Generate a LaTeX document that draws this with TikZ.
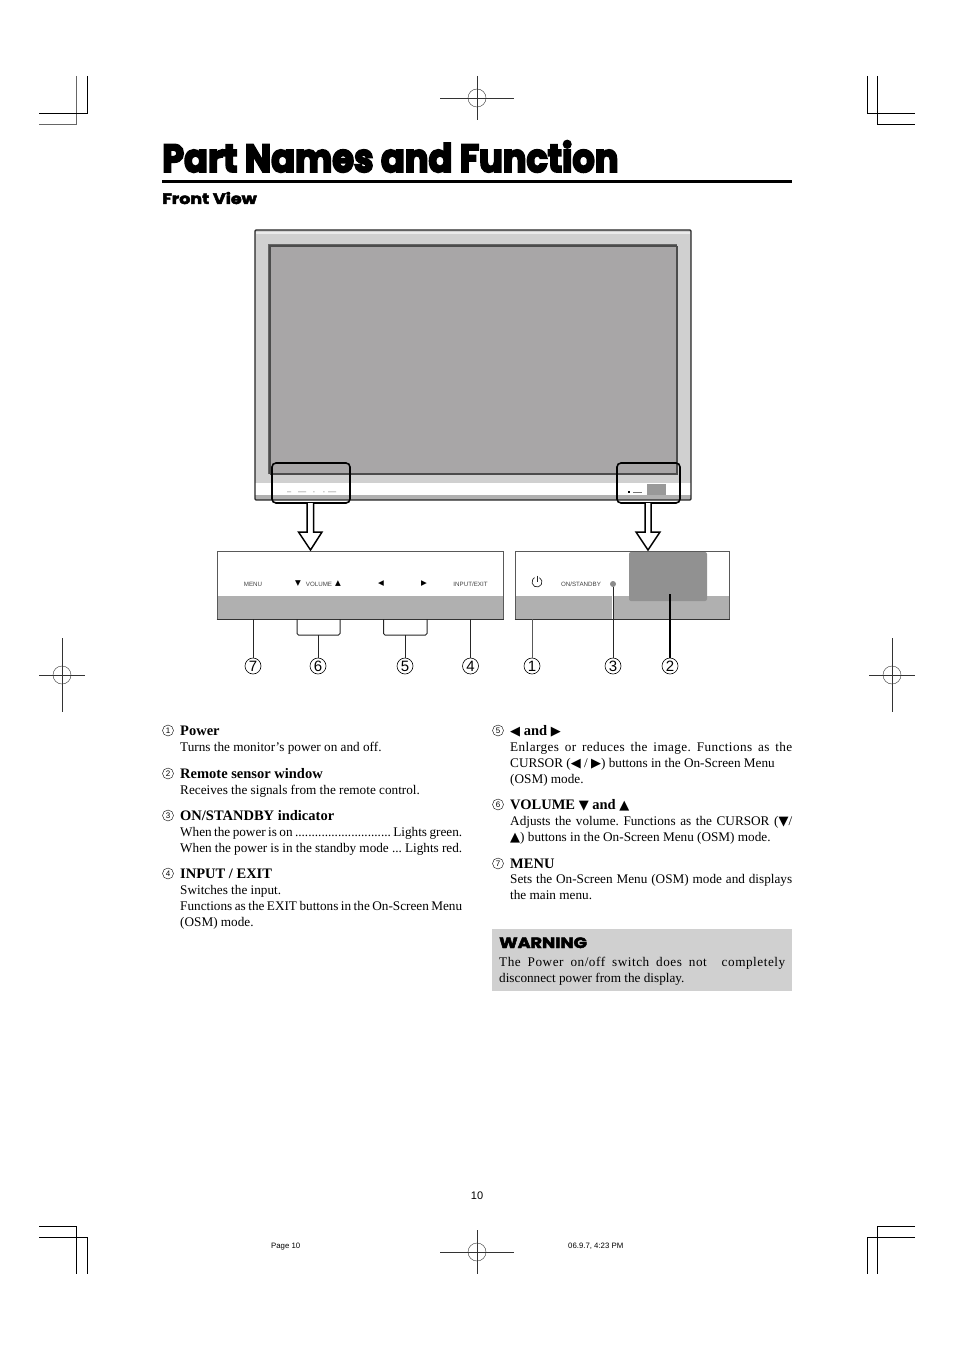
\documentclass[tikz,border=0pt]{standalone}
\usepackage{fontspec}
\setmainfont{Liberation Serif}
\newfontfamily\helv{Liberation Sans}
\newfontfamily\djv{DejaVu Sans}
\newfontfamily\heavy[FakeBold=3]{Poppins Bold}
\newfontfamily\heavier[FakeBold=5]{Poppins Bold}
\newcommand{\fsz}[1]{\fontsize{#1}{#1}\selectfont}
\newcommand{\tri}[1]{{\djv\fsz{13}#1}}
\newcommand{\stretchline}[2]{\makebox[#1][s]{#2}}
\newcommand{\spaced}[1]{{\addfontfeatures{LetterSpace=#1}}}
\frenchspacing
\tikzset{
  x=1pt,y=-1pt,
  body/.style={anchor=base west,inner sep=0pt,font=\fsz{13.22}},
  head/.style={anchor=base west,inner sep=0pt,font=\fsz{14.5}\bfseries},
  lnum/.style={circle,draw,line width=.4pt,inner sep=0pt,minimum size=11pt,font=\helv\fsz{8}},
  dnum/.style={circle,draw,line width=.6pt,inner sep=0pt,minimum size=16pt,font=\helv\fsz{15}},
  plabel/.style={inner sep=0pt,font=\helv\fsz{6.2},text=black!75},
  ptri/.style={inner sep=0pt,font=\djv\fsz{7.5}},
  crop/.style={line width=.9pt,black},
  cropg/.style={line width=.9pt,black!60},
  reg/.style={line width=.4pt,black!80},
  lead/.style={line width=1pt,black!85},
  callout/.style={line width=1.6pt,rounded corners=4pt},
  hollow/.style={draw=black,line width=1.5pt,fill=white,line join=miter},
  small/.style={inner sep=0pt,anchor=base west,font=\helv\fsz{7.8}}
}
\definecolor{screen}{HTML}{A8A6A7}
\definecolor{bezel}{HTML}{D0D0D0}
\definecolor{band}{HTML}{B0B0B0}
\begin{document}
\begin{tikzpicture}
\useasboundingbox[fill=white] (0,0) rectangle (954,1351);
% crop marks
\draw[cropg] (76.5,76) -- (76.5,124) -- (39,124);
\draw[crop] (87.5,76) -- (87.5,113) -- (39,113);
\draw[crop] (867,76) -- (867,113) -- (915,113);
\draw[crop] (877.5,76) -- (877.5,124) -- (915,124);
\draw[crop] (39,1226.5) -- (76.5,1226.5) -- (76.5,1274);
\draw[crop] (39,1237.5) -- (87.5,1237.5) -- (87.5,1274);
\draw[crop] (915,1226.5) -- (877.5,1226.5) -- (877.5,1274);
\draw[crop] (915,1237.5) -- (867,1237.5) -- (867,1274);
% registration marks
\foreach \cx/\cy/\hw/\vw in {477/98/37/22,477/1252/37/22,62/675/23/37,892/675/23/37}{
  \draw[reg] (\cx-\hw,\cy) -- (\cx+\hw,\cy) (\cx,\cy-\vw) -- (\cx,\cy+\vw);
  \draw[reg] (\cx,\cy) circle (9);
}
% title
\node[anchor=base west,inner sep=0pt,font=\heavier\fsz{38}] (title) at (162,172) {\scalebox{.925}[1.03]{Part Names and Function}};
\fill (162,180.3) rectangle (792,183.2);
\node[anchor=base west,inner sep=0pt,font=\heavy\fsz{15}] (front) at (162,204) {\scalebox{1.165}[1]{Front View}};
% monitor
\fill[bezel] (255,230) rectangle (691,483);
\fill[black!8] (256,232) rectangle (690,234);
\fill[white] (255,483) rectangle (691,495);
\fill[band] (255,495) rectangle (691,500);
\draw[line width=1.2pt,black!85,rounded corners=1pt] (255,230) rectangle (691,500);
\fill[screen] (268,244) rectangle (677,474);
\draw[line width=.8pt,black!60] (268,474) -- (268,244) -- (677,244);
\draw[line width=1.6pt,black!70] (270,474) -- (270,246) -- (677,246);
\draw[line width=1.2pt,black!70] (270,474) -- (677,474) -- (677,246);
\fill[black!40] (647,484) rectangle (666,495);
\fill[black!55] (287,491.5) rectangle (291,492)
  (298,491.5) rectangle (306,492) (313,491.5) rectangle (314.5,492)
  (323,491.5) rectangle (324.5,492) (328,491.5) rectangle (336,492);
\fill[black] (628,491) rectangle (630,492.5);
\fill[black!55] (633,491.5) rectangle (642,492);
\draw[callout] (272,463) rectangle (350,503);
\draw[callout] (617,463) rectangle (680,503);
% hollow arrows
\draw[hollow] (307,503) -- (307,532) -- (298.5,532) -- (310.5,550) -- (322,532) -- (313.5,532) -- (313.5,503);
\draw[hollow] (645,503) -- (645,532) -- (636,532) -- (648,550) -- (660,532) -- (651,532) -- (651,503);
% left panel
\fill[band] (217,596) rectangle (503,619);
\draw[line width=.8pt,black!65] (217,619) -- (217,551.5) -- (503,551.5) -- (503,619);
\draw[line width=1.6pt,black!80] (216.5,619.5) -- (503.5,619.5);
\node[plabel] (menu) at (253,584) {MENU};
\node[ptri] (voldn) at (298,584) {▼};
\node[plabel] (vol) at (319,584) {VOLUME};
\node[ptri] (volup) at (338,584) {▲};
\node[ptri] (left) at (381,584) {◀};
\node[ptri] (right) at (424,584) {▶};
\node[plabel] (input) at (470.5,584) {INPUT/EXIT};
% right panel
\fill[band] (515,596) rectangle (729,619);
\draw[line width=.8pt,black!65] (515,619) -- (515,551.5) -- (729,551.5) -- (729,619);
\draw[line width=1.6pt,black!80] (514.5,619.5) -- (729.5,619.5);
\fill[black!43,rounded corners=2pt] (629,552) rectangle (707,601);
\draw[line width=.7pt,black!85] (539.5,577.7) arc[start angle=-60,end angle=240,radius=5];
\draw[line width=.7pt,black!85] (537,575.5) -- (537,582);
\node[plabel] (standby) at (581,584) {ON/STANDBY};
\node[circle,fill=black!45,inner sep=0pt,minimum size=6pt] (led) at (613,584) {};
% callout numbers
\node[dnum] (n7) at (253,666) {7};
\node[dnum] (n6) at (318,666) {6};
\node[dnum] (n5) at (405,666) {5};
\node[dnum] (n4) at (470.5,666) {4};
\node[dnum] (n1) at (532,666) {1};
\node[dnum] (n3) at (613,666) {3};
\node[dnum] (n2) at (670,666) {2};
\coordinate (c7) at (253,619);
\coordinate (c4) at (470.5,619);
\coordinate (c1) at (532,619);
\coordinate (c2) at (670,594);
\coordinate (b6) at (318,635);
\coordinate (b5) at (405,635);
\draw[lead] (c7) -- (n7);
\draw[lead] (c4) -- (n4);
\draw[lead,black!65] (c1) -- (n1);
\draw[line width=2.2pt,white] (led) -- (613,619);
\draw[lead] (led) -- (n3);
\draw[lead,line width=1.1pt,black] (c2) -- (n2);
\draw[lead,rounded corners=1.5pt] (297,619) -- (297,635) -- (340,635) -- (340,619);
\draw[lead,rounded corners=1.5pt] (383.5,619) -- (383.5,635) -- (427,635) -- (427,619);
\draw[lead] (b6) -- (n6);
\draw[lead] (b5) -- (n5);
% left column
\node[lnum] (l1) at (168,730.5) {1};
\node[head] (h1) at (180,735) {Power};
\node[body] at (180,751) {Turns the monitor’s power on and off.};
\node[lnum] (l2) at (168,773.5) {2};
\node[head] (h2) at (180,778) {Remote sensor window};
\node[body] at (180,794) {Receives the signals from the remote control.};
\node[lnum] (l3) at (168,815.5) {3};
\node[head] (h3) at (180,820) {ON/STANDBY indicator};
\node[body] at (180,836) {\stretchline{282pt}{When the power is on ............................. \hfill Lights green.}};
\node[body] at (180,852) {\stretchline{282pt}{When the power is in the standby mode ... \hfill Lights red.}};
\node[lnum] (l4) at (168,873.5) {4};
\node[head] (h4) at (180,878) {INPUT / EXIT};
\node[body] at (180,894) {Switches the input.};
\node[body] at (180,910) {\stretchline{282pt}{Functions as the EXIT buttons in the On-Screen Menu}};
\node[body] at (180,926) {(OSM) mode.};
% right column
\node[lnum] (l5) at (498,730.5) {5};
\node[head] (h5) at (510,735) {\tri{◀} and \tri{▶}};
\node[body] at (510,751) {\stretchline{282pt}{\addfontfeatures{LetterSpace=3}Enlarges or reduces the image. Functions as the}};
\node[body] at (510,767) {CURSOR (\tri{◀} / \tri{▶}) buttons in the On-Screen Menu};
\node[body] at (510,783) {(OSM) mode.};
\node[lnum] (l6) at (498,804.5) {6};
\node[head] (h6) at (510,809) {VOLUME \tri{▼} and \tri{▲}};
\node[body] at (510,825) {\stretchline{282pt}{Adjusts the volume. Functions as the CURSOR (\tri{▼}/}};
\node[body] at (510,841) {\tri{▲}) buttons in the On-Screen Menu (OSM) mode.};
\node[lnum] (l7) at (498,863.5) {7};
\node[head] (h7) at (510,868) {MENU};
\node[body] at (510,883) {\stretchline{282pt}{Sets the On-Screen Menu (OSM) mode and displays}};
\node[body] at (510,899) {the main menu.};
% warning
\fill[bezel] (492,929) rectangle (792,991);
\node[anchor=base west,inner sep=0pt,font=\heavy\fsz{15}] (warn) at (499,948) {\scalebox{1.17}[1]{WARNING}};
\node[body] at (499,966) {\stretchline{286pt}{\addfontfeatures{LetterSpace=4}The Power on/off switch does not\hspace{.6em} completely}};
\node[body] at (499,982) {disconnect power from the display.};
% footer
\node[inner sep=0pt,anchor=base,font=\helv\fsz{11}] (pg) at (477,1199) {10};
\node[small] (foot1) at (271,1248) {Page 10};
\node[small] (foot2) at (568,1248) {06.9.7, 4:23 PM};
\end{tikzpicture}
\end{document}
